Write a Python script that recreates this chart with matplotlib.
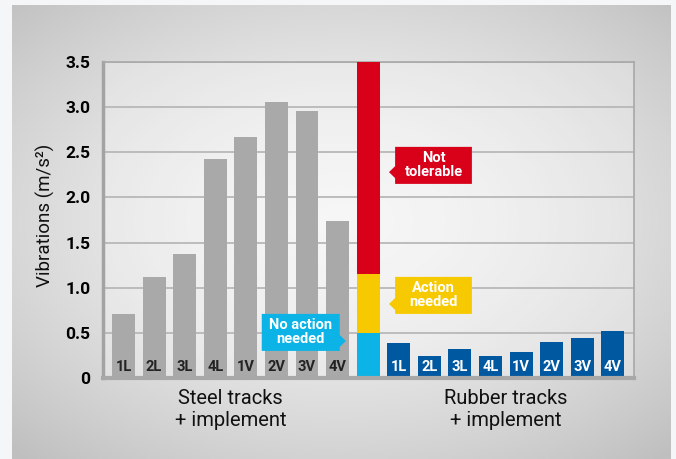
import numpy as np
import matplotlib.pyplot as plt
from matplotlib.patches import Polygon
import matplotlib.transforms as mtransforms

plt.rcParams['font.family'] = ['Roboto', 'DejaVu Sans']

# data
bar_labels = ['1L', '2L', '3L', '4L', '1V', '2V', '3V', '4V']
steel_values = [0.71, 1.12, 1.37, 2.43, 2.67, 3.06, 2.96, 1.74]
rubber_values = [0.39, 0.24, 0.32, 0.24, 0.29, 0.40, 0.44, 0.52]
zone_tops = [0.5, 1.15, 3.5]
zone_names = ['No action\nneeded', 'Action\nneeded', 'Not\ntolerable']
zone_colors = ['#0bb3e6', '#f6c900', '#d9001a']
y_ticks = [0, 0.5, 1.0, 1.5, 2.0, 2.5, 3.0, 3.5]
y_ticklabels = ['0', '0.5', '1.0', '1.5', '2.0', '2.5', '3.0', '3.5']
group_names = ['Steel tracks\n+ implement', 'Rubber tracks\n+ implement']

gray = '#a9a9a9'
blue = '#0058a0'

fig = plt.figure(figsize=(6.76, 4.59), dpi=100)
fig.patch.set_facecolor('#f4f6f8')

# gradient panel behind everything
bg = fig.add_axes([12 / 676, 0, 659 / 676, 454 / 459], zorder=-10)
gx, gy = np.meshgrid(np.linspace(-1, 1, 300), np.linspace(-1, 1, 200))
r = np.sqrt((gx * 0.95) ** 2 + ((gy + 0.05) * 1.0) ** 2)
shade = 0.955 - 0.12 * np.clip(r, 0, 1.4) ** 1.6
img = np.dstack([shade, shade, shade])
bg.imshow(img, aspect='auto', extent=[0, 1, 0, 1], origin='upper')
bg.axis('off')

ax = fig.add_axes([103 / 676, 81 / 459, 531 / 676, 316 / 459])
ax.set_facecolor((1, 1, 1, 0.25))

x_steel = np.arange(len(steel_values))
x_zone = len(steel_values)
x_rubber = np.arange(len(rubber_values)) + len(steel_values) + 1
w = 0.75

ax.bar(x_steel, steel_values, width=w, color=gray, zorder=3)
ax.bar(x_rubber, rubber_values, width=w, color=blue, zorder=3)

bottoms = [0] + zone_tops[:-1]
for b, t, c in zip(bottoms, zone_tops, zone_colors):
    ax.bar(x_zone, t - b, bottom=b, width=w, color=c, zorder=3, clip_on=False)

for xi, lab in zip(x_steel, bar_labels):
    ax.text(xi, 0.12, lab, ha='center', va='center', fontsize=10.5,
            fontweight='bold', color='#222222', zorder=5)
for xi, lab in zip(x_rubber, bar_labels):
    ax.text(xi, 0.12, lab, ha='center', va='center', fontsize=10.5,
            fontweight='bold', color='white', zorder=5)


def callout(x0, x1, y0, y1, ya, side, color, text):
    ah = 0.066
    al = 0.2
    if side == 'left':
        pts = [(x0, y0), (x1, y0), (x1, y1), (x0, y1),
               (x0, ya + ah), (x0 - al, ya), (x0, ya - ah)]
    else:
        pts = [(x0, y0), (x1, y0), (x1, ya - ah), (x1 + al, ya),
               (x1, ya + ah), (x1, y1), (x0, y1)]
    ax.add_patch(Polygon(pts, closed=True, facecolor=color,
                         edgecolor='none', zorder=6))
    ax.text((x0 + x1) / 2, (y0 + y1) / 2, text, ha='center', va='center',
            fontsize=10.5, fontweight='bold', color='white', zorder=7,
            linespacing=1.0)


callout(4.52, 7.07, 0.30, 0.71, 0.41, 'right', zone_colors[0], zone_names[0])
callout(8.88, 11.39, 0.71, 1.12, 0.82, 'left', zone_colors[1], zone_names[1])
callout(8.88, 11.39, 2.15, 2.56, 2.28, 'left', zone_colors[2], zone_names[2])

ax.set_xlim(-0.67, 16.69)
ax.set_ylim(0, 3.5)
ax.set_yticks(y_ticks)
ax.set_yticklabels(y_ticklabels, fontsize=12.5, fontweight='bold')
ax.set_xticks([])
ax.tick_params(axis='y', length=0, pad=9)
ax.yaxis.grid(True, color='#b8b8b8', linewidth=1.3, zorder=0)
ax.set_axisbelow(True)

ax.spines['left'].set_color('#a3a3a3')
ax.spines['left'].set_linewidth(2.5)
ax.spines['bottom'].set_color('#a8a8a8')
ax.spines['bottom'].set_linewidth(3)
ax.spines['bottom'].set_zorder(4)
for s in ['top', 'right']:
    ax.spines[s].set_color('#a8a8a8')
    ax.spines[s].set_linewidth(1.2)

fig.text(45 / 676, 1 - 215 / 459, 'Vibrations (m/s²)', rotation=90,
         ha='center', va='center', fontsize=13.5, color='#111111')

trans = mtransforms.blended_transform_factory(ax.transData, fig.transFigure)
centers = [x_steel.mean(), x_rubber.mean()]
for cx, name in zip(centers, group_names):
    ax.text(cx, (459 - 410) / 459, name, transform=trans, ha='center',
            va='center', fontsize=14.5, color='#111111')

fig.savefig('out.png', dpi=100, facecolor=fig.get_facecolor())
